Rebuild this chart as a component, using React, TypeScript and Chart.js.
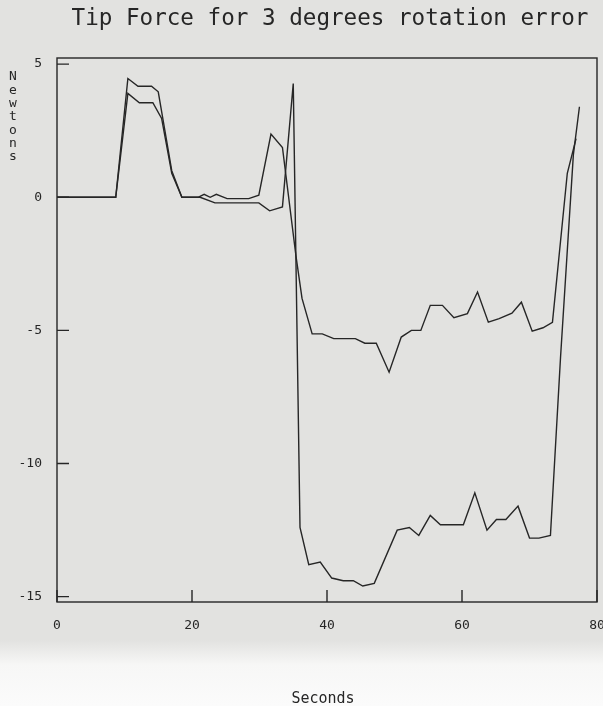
import React, { useEffect, useRef } from "react";
import { Chart, registerables } from "chart.js";

Chart.register(...registerables);

const MONO = '"DejaVu Sans Mono", "Liberation Mono", monospace';
const INK = "#262626";

const titleText = "Tip Force for 3 degrees rotation error";
const xAxisLabel = "Seconds";
const yAxisLabel = "Newtons";
const xTickValues = [0, 20, 40, 60, 80];
const yTickValues = [5, 0, -5, -10, -15];

// Trace A (upper trace in the final portion)
const timeA = [0, 8.7, 10.5, 12.0, 14.0, 15.0, 17.0, 18.5, 20.9, 21.8, 22.7, 23.6, 25.2, 28.4, 29.9, 31.7, 33.4, 35.4, 36.3, 37.8, 39.3, 41.0, 44.2, 45.6, 47.3, 49.2, 51.0, 52.5, 53.9, 55.3, 57.1, 58.8, 60.8, 62.3, 63.9, 65.5, 67.4, 68.8, 70.4, 72.0, 73.4, 75.6, 76.9];
const forceA = [0, 0, 4.46, 4.17, 4.17, 3.96, 1.0, 0, 0, 0.11, 0, 0.11, -0.05, -0.05, 0.08, 2.37, 1.87, -2.2, -3.8, -5.13, -5.13, -5.31, -5.31, -5.48, -5.48, -6.57, -5.25, -5.0, -5.0, -4.06, -4.06, -4.52, -4.37, -3.56, -4.69, -4.56, -4.35, -3.94, -5.03, -4.9, -4.7, 0.9, 2.2];

// Trace B (lower trace in the final portion)
const timeB = [0, 8.7, 10.5, 12.2, 14.2, 15.5, 17.0, 18.5, 21.2, 23.4, 29.9, 31.5, 33.4, 35.0, 36.0, 37.3, 39.0, 40.7, 42.4, 43.9, 45.3, 47.0, 50.4, 52.2, 53.6, 55.3, 56.8, 60.2, 61.9, 63.7, 65.1, 66.5, 68.3, 70.0, 71.4, 73.1, 74.6, 76.5, 77.4];
const forceB = [0, 0, 3.9, 3.55, 3.55, 2.96, 0.9, 0, 0, -0.21, -0.21, -0.51, -0.36, 4.27, -12.4, -13.8, -13.7, -14.3, -14.4, -14.4, -14.6, -14.5, -12.5, -12.4, -12.7, -11.95, -12.3, -12.3, -11.1, -12.5, -12.1, -12.1, -11.6, -12.8, -12.8, -12.7, -6.0, 1.6, 3.4];

const framePlugin = {
  id: "plotterFrame",
  afterDatasetsDraw(chart: any) {
    const { ctx, chartArea, scales } = chart;
    const { left, right, top, bottom } = chartArea;
    ctx.save();
    ctx.strokeStyle = INK;
    ctx.lineWidth = 1.4;
    ctx.strokeRect(left, top, right - left, bottom - top);
    ctx.beginPath();
    for (const v of yTickValues) {
      const y = scales.y.getPixelForValue(v);
      ctx.moveTo(left, y);
      ctx.lineTo(left + 12, y);
    }
    for (const v of xTickValues) {
      const x = scales.x.getPixelForValue(v);
      ctx.moveTo(x, bottom);
      ctx.lineTo(x, bottom - 12);
    }
    ctx.stroke();

    ctx.fillStyle = INK;
    ctx.font = `22.6px ${MONO}`;
    ctx.textAlign = "center";
    ctx.textBaseline = "alphabetic";
    ctx.fillText(titleText, (left + right) / 2 + 3, 25);

    ctx.font = `15px ${MONO}`;
    ctx.fillText(xAxisLabel, (left + right) / 2 - 4, 703);

    ctx.font = `13px ${MONO}`;
    ctx.textBaseline = "middle";
    const letters = Array.from(yAxisLabel);
    letters.forEach((ch, i) => {
      ctx.fillText(ch, 13, 77 + i * 13.3);
    });
    ctx.restore();
  },
};

export default function App() {
  const ref = useRef<HTMLCanvasElement>(null);

  useEffect(() => {
    document.body.style.margin = "0";
    const canvas = ref.current;
    if (!canvas) return;
    const chart = new Chart(canvas, {
      type: "scatter",
      data: {
        datasets: [
          {
            label: "A",
            data: timeA.map((x, i) => ({ x, y: forceA[i] })),
            showLine: true,
            borderColor: INK,
            borderWidth: 1.4,
            pointRadius: 0,
            tension: 0,
            fill: false,
          },
          {
            label: "B",
            data: timeB.map((x, i) => ({ x, y: forceB[i] })),
            showLine: true,
            borderColor: INK,
            borderWidth: 1.4,
            pointRadius: 0,
            tension: 0,
            fill: false,
          },
        ],
      },
      options: {
        responsive: false,
        animation: false,
        devicePixelRatio: 1,
        layout: { padding: { top: 58, right: 6, bottom: 0, left: 0 } },
        plugins: {
          legend: { display: false },
          tooltip: { enabled: false },
          title: { display: false },
        },
        scales: {
          x: {
            type: "linear",
            min: 0,
            max: 80,
            afterBuildTicks: (s: any) => {
              s.ticks = xTickValues.map((v) => ({ value: v }));
            },
            afterFit: (s: any) => {
              s.height = 104;
              s.paddingLeft = 0;
              s.paddingRight = 0;
            },
            grid: { display: false, drawTicks: false },
            border: { display: false },
            ticks: {
              padding: 16,
              color: INK,
              font: { family: MONO, size: 13 },
              maxRotation: 0,
              autoSkip: false,
            },
          },
          y: {
            type: "linear",
            min: -15.2,
            max: 5.23,
            afterBuildTicks: (s: any) => {
              s.ticks = yTickValues.map((v) => ({ value: v }));
            },
            afterFit: (s: any) => {
              s.width = 57;
              s.paddingTop = 0;
              s.paddingBottom = 0;
            },
            grid: { display: false, drawTicks: false },
            border: { display: false },
            ticks: {
              padding: 15,
              color: INK,
              font: { family: MONO, size: 13 },
              autoSkip: false,
            },
          },
        },
      },
      plugins: [framePlugin],
    });
    return () => chart.destroy();
  }, []);

  return (
    <div
      style={{
        position: "relative",
        width: 603,
        height: 706,
        background: "linear-gradient(to bottom, #e2e2e0 0px, #e2e2e0 640px, #f7f7f6 665px, #fbfbfb 706px)",
      }}
    >
      <canvas ref={ref} width={603} height={706} style={{ display: "block" }} />
    </div>
  );
}
